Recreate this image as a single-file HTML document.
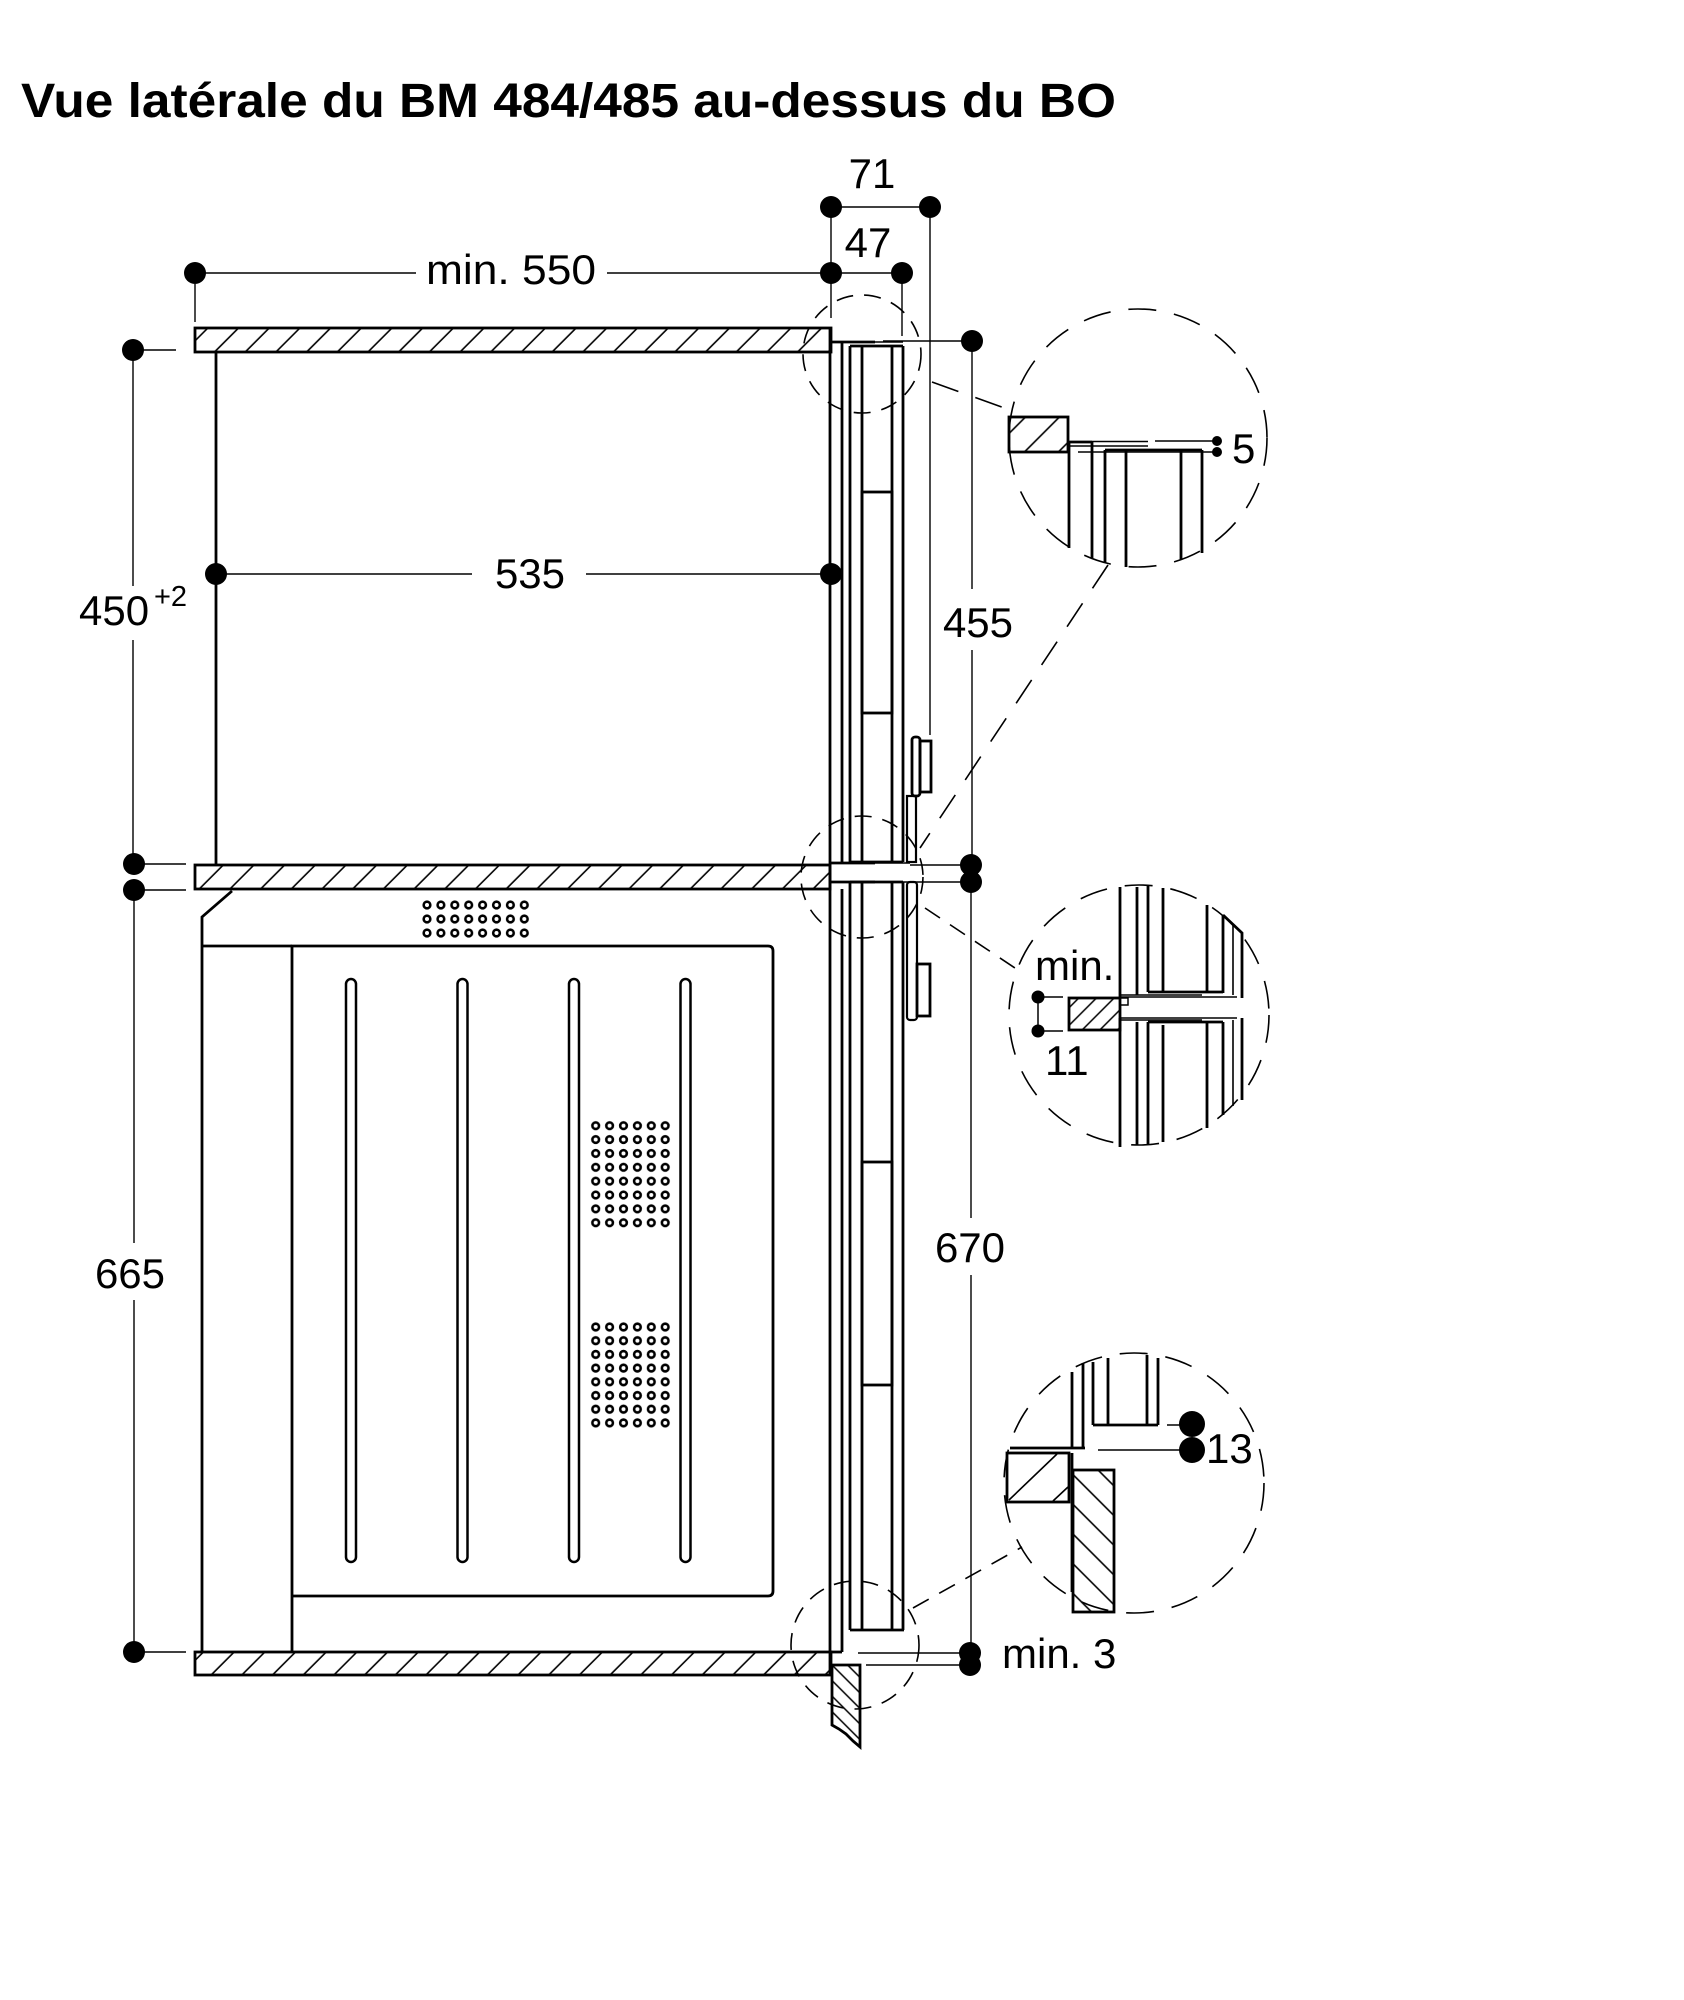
<!DOCTYPE html>
<html><head><meta charset="utf-8"><style>
html,body{margin:0;padding:0;background:#fff;}
svg{display:block;}
text{font-family:"Liberation Sans",Arial,sans-serif;fill:#000;}
</style></head><body>
<svg width="1684" height="2000" viewBox="0 0 1684 2000" xmlns="http://www.w3.org/2000/svg">
<defs>
<pattern id="h1" patternUnits="userSpaceOnUse" width="21.7" height="40" patternTransform="rotate(45)"><line x1="10" y1="-5" x2="10" y2="45" stroke="#000" stroke-width="1.6"/></pattern>
<pattern id="h2" patternUnits="userSpaceOnUse" width="12.5" height="40" patternTransform="rotate(45)"><line x1="6" y1="-5" x2="6" y2="45" stroke="#000" stroke-width="1.5"/></pattern>
<pattern id="h3" patternUnits="userSpaceOnUse" width="21" height="40" patternTransform="rotate(-45)"><line x1="10" y1="-5" x2="10" y2="45" stroke="#000" stroke-width="1.6"/></pattern>
<pattern id="h4" patternUnits="userSpaceOnUse" width="11" height="40" patternTransform="rotate(-45)"><line x1="5" y1="-5" x2="5" y2="45" stroke="#000" stroke-width="1.5"/></pattern>
<pattern id="h5" patternUnits="userSpaceOnUse" width="24" height="40" patternTransform="rotate(45)"><line x1="12" y1="-5" x2="12" y2="45" stroke="#000" stroke-width="1.6"/></pattern>
<pattern id="d1" patternUnits="userSpaceOnUse" x="420.05" y="898" width="13.9" height="14"><circle cx="6.95" cy="7" r="3.3" fill="none" stroke="#000" stroke-width="2.6"/></pattern>
<pattern id="d2" patternUnits="userSpaceOnUse" x="588.75" y="1118.77" width="13.9" height="13.86"><circle cx="6.95" cy="6.93" r="3.3" fill="none" stroke="#000" stroke-width="2.6"/></pattern>
<pattern id="d3" patternUnits="userSpaceOnUse" x="588.75" y="1320.15" width="13.9" height="13.7"><circle cx="6.95" cy="6.85" r="3.3" fill="none" stroke="#000" stroke-width="2.6"/></pattern>
</defs>

<!-- Title -->
<text x="21" y="117" font-size="48" font-weight="bold" textLength="1095" lengthAdjust="spacingAndGlyphs">Vue latérale du BM 484/485 au-dessus du BO</text>

<!-- Shelves -->
<g stroke="#000" stroke-width="2.8" fill="url(#h1)">
<rect x="195" y="328" width="636" height="24"/>
<rect x="195" y="865" width="635" height="24"/>
<rect x="195" y="1652" width="636" height="23"/>
</g>

<!-- Main thick geometry -->
<g stroke="#000" stroke-width="2.8" fill="none">
<path d="M216 352 V865"/>
<!-- oven -->
<path d="M232 891 L202 917 V1652"/>
<path d="M202 946 H292"/>
<path d="M292 1652 V946 H768 Q773 946 773 951 V1591 Q773 1596 768 1596 H292"/>
<path d="M842 889 V1652"/>
<rect x="346" y="979" width="10" height="583" rx="5" stroke-width="2.5"/>
<rect x="457.5" y="979" width="10" height="583" rx="5" stroke-width="2.5"/>
<rect x="569" y="979" width="10" height="583" rx="5" stroke-width="2.5"/>
<rect x="680.5" y="979" width="10" height="583" rx="5" stroke-width="2.5"/>
<!-- front column -->
<path d="M830 328 V1675"/>
<path d="M842 342 V863"/>
<path d="M830 342 H875"/>
<path d="M850 346 V862 M862 346 V862 M892 346 V862 M903 346 V862 M850 346 H903 M850 862 H903"/>
<rect x="862" y="492" width="30" height="221"/>
<rect x="907" y="796" width="9" height="66" stroke-width="2.2"/>
<rect x="912" y="737" width="8" height="59" rx="3"/>
<rect x="920" y="741" width="11" height="51"/>
<path d="M830 863 H875 M830 882 H875" />
<path d="M850 882 V1630 M862 882 V1630 M892 882 V1630 M903 882 V1630 M850 1630 H904 M850 882 H903"/>
<rect x="862" y="1162" width="30" height="223"/>
<rect x="907" y="882" width="10" height="138" rx="3" stroke-width="2.2"/>
<rect x="917" y="964" width="13" height="52"/>
<path d="M830 1652 H842"/>
<path d="M832 1665 H860 V1747 L853 1741 L846 1734 L839 1729 L832 1725 Z" fill="url(#h4)"/>
</g>
<path d="M875 863 H910 M875 882 H910 M875 342 H903" stroke="#000" stroke-width="1.4" fill="none"/>

<!-- vent grids -->
<rect x="420.05" y="898" width="111.2" height="42" fill="url(#d1)"/>
<rect x="588.75" y="1118.77" width="83.4" height="110.88" fill="url(#d2)"/>
<rect x="588.75" y="1320.15" width="83.4" height="109.6" fill="url(#d3)"/>

<!-- Dimension lines -->
<g stroke="#000" stroke-width="1.4" fill="none">
<path d="M195 273 H416 M607 273 H902"/>
<path d="M831 207 H930"/>
<path d="M831 207 V318 M902 273 V336 M930 207 V735 M195 284 V322"/>
<path d="M176 350 H133 V586 M133 640 V864 H186"/>
<path d="M186 890 H134 V1243 M134 1300 V1652 H186"/>
<path d="M216 574 H472 M586 574 H831"/>
<path d="M883 341 H972 V589 M972 650 V865 M910 865 H972 M910 882 H972"/>
<path d="M971 882 V1218 M971 1275 V1653"/>
<path d="M858 1653 H970 M866 1665 H970"/>
</g>

<!-- Dimension dots -->
<g fill="#000">
<circle cx="195" cy="273" r="11"/>
<circle cx="831" cy="273" r="11"/>
<circle cx="902" cy="273" r="11"/>
<circle cx="831" cy="207" r="11"/>
<circle cx="930" cy="207" r="11"/>
<circle cx="133" cy="350" r="11"/>
<circle cx="134" cy="864" r="11"/>
<circle cx="134" cy="890" r="11"/>
<circle cx="134" cy="1652" r="11"/>
<circle cx="216" cy="574" r="11"/>
<circle cx="831" cy="574" r="11"/>
<circle cx="972" cy="341" r="11"/>
<circle cx="971" cy="865" r="11"/>
<circle cx="971" cy="882" r="11"/>
<circle cx="970" cy="1653" r="11"/>
<circle cx="970" cy="1665" r="11"/>
</g>

<!-- Dimension texts -->
<g font-size="42">
<text x="872" y="188" text-anchor="middle">71</text>
<text x="868" y="257" text-anchor="middle">47</text>
<text x="511" y="284" text-anchor="middle" textLength="170" lengthAdjust="spacingAndGlyphs">min. 550</text>
<text x="530" y="588" text-anchor="middle">535</text>
<text x="79" y="625">450</text>
<text x="130" y="1288" text-anchor="middle">665</text>
<text x="978" y="637" text-anchor="middle">455</text>
<text x="970" y="1262" text-anchor="middle">670</text>
<text x="1002" y="1668">min. 3</text>
<text x="1232" y="463">5</text>
<text x="1035" y="980">min.</text>
<text x="1045" y="1075">11</text>
<text x="1206" y="1463">13</text>
</g>
<text x="154" y="606" font-size="29">+2</text>

<!-- Dashed circles and leaders -->
<g stroke="#000" stroke-width="1.6" fill="none">
<circle cx="862" cy="354" r="59" stroke-dasharray="17 11"/>
<circle cx="862" cy="877" r="61" stroke-dasharray="17 11"/>
<circle cx="855" cy="1645" r="64" stroke-dasharray="17 11"/>
<circle cx="1138" cy="438" r="129" stroke-dasharray="28 18"/>
<circle cx="1139" cy="1015" r="130" stroke-dasharray="28 18"/>
<circle cx="1134" cy="1483" r="130" stroke-dasharray="28 18"/>
<path d="M932 382 L1010 410" stroke-dasharray="28 18"/>
<path d="M1108 565 L920 848" stroke-dasharray="28 18"/>
<path d="M925 908 L1015 968" stroke-dasharray="18 12"/>
<path d="M913 1608 L1022 1547" stroke-dasharray="18 12"/>
</g>

<!-- Top detail -->
<g stroke="#000" fill="none">
<rect x="1009" y="417" width="59" height="35" stroke-width="2.8" fill="url(#h5)"/>
<path d="M1069 442 V548 M1092 442 V558 M1105 450 V563 M1126 450 V567 M1181 450 V560 M1202 450 V553 M1105 450 H1202 M1068 442 H1092" stroke-width="2.8"/>
<path d="M1092 441.5 H1148 M1068 446 H1148 M1155 441 H1217 M1078 452 H1217" stroke-width="1.5"/>
<circle cx="1217" cy="441" r="5" fill="#000" stroke="none"/>
<circle cx="1217" cy="452" r="5" fill="#000" stroke="none"/>
</g>

<!-- Middle detail -->
<g stroke="#000" fill="none">
<path d="M1120 887 V997 M1137 887 V995 M1148 885 V992 M1163 888 V992 M1207 905 V992 M1223 915 V993 M1223 915 L1242 933 V998 M1148 992 H1223" stroke-width="2.8"/>
<path d="M1233 925 V995 M1233 1020 V1106" stroke-width="1.6"/>
<path d="M1120 1018 V1147 M1137 1022 V1145 M1148 1022 V1145 M1163 1025 V1142 M1207 1023 V1128 M1223 1022 V1115 M1242 1018 V1100 M1148 1022 H1223" stroke-width="2.8"/>
<path d="M1120 995 H1202 M1120 997 H1237 M1120 1018 H1237 M1120 1020 H1202" stroke-width="1.5"/>
<rect x="1069" y="998" width="51" height="32" stroke-width="2.8" fill="url(#h2)"/>
<rect x="1120" y="998" width="8" height="7" stroke-width="1.5"/>
<path d="M1038 997 V1031 M1038 997 H1063 M1038 1031 H1063" stroke-width="1.5"/>
<circle cx="1038" cy="997" r="6.5" fill="#000" stroke="none"/>
<circle cx="1038" cy="1031" r="6.5" fill="#000" stroke="none"/>
</g>

<!-- Bottom detail -->
<g stroke="#000" fill="none">
<path d="M1072 1372 V1448 M1083 1363 V1448 M1093 1362 V1425 M1108 1358 V1425 M1147 1355 V1425 M1158 1358 V1425 M1093 1425 H1158 M1010 1448 H1085" stroke-width="2.8"/>
<path d="M1167 1425 H1190 M1098 1450 H1190" stroke-width="1.5"/>
<rect x="1007" y="1453" width="62" height="49" stroke-width="2.8"/>
<path d="M1009 1500 L1057 1454 M1053 1501 L1068 1487" stroke-width="1.6"/>
<path d="M1072 1453 V1592" stroke-width="2.8"/>
<rect x="1073" y="1470" width="41" height="142" stroke-width="2.8" fill="url(#h3)"/>
<circle cx="1192" cy="1424" r="13" fill="#000" stroke="none"/>
<circle cx="1192" cy="1450" r="13" fill="#000" stroke="none"/>
</g>
</svg>
</body></html>
